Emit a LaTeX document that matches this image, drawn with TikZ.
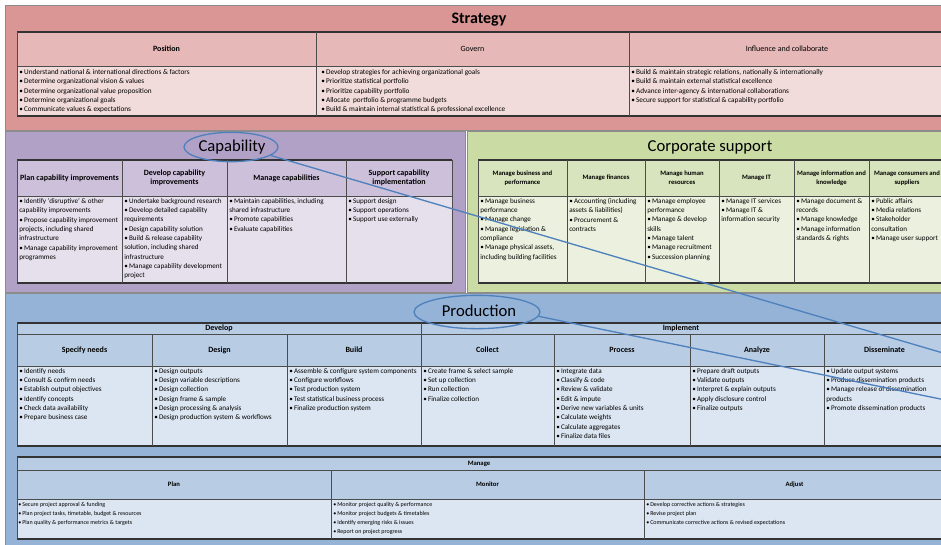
\documentclass[tikz,border=0pt]{standalone}
\usepackage{fontspec}
\setmainfont{Carlito}
\usetikzlibrary{shapes.geometric}

\definecolor{stratBand}{RGB}{217,150,148}
\definecolor{stratHead}{RGB}{230,184,183}
\definecolor{stratBody}{RGB}{242,220,219}
\definecolor{capBand}{RGB}{178,161,199}
\definecolor{capHead}{RGB}{204,192,218}
\definecolor{capBody}{RGB}{229,224,236}
\definecolor{corpBand}{RGB}{202,219,164}
\definecolor{corpHead}{RGB}{215,228,189}
\definecolor{corpBody}{RGB}{235,241,222}
\definecolor{prodBand}{RGB}{149,179,215}
\definecolor{prodHead}{RGB}{184,204,228}
\definecolor{prodBody}{RGB}{220,230,242}
\definecolor{ringBlue}{RGB}{79,129,189}

\newcommand{\itemdot}{\textbullet\,}

\begin{document}
\begin{tikzpicture}[x=0.75pt,y=0.75pt,yscale=-1,xscale=1,
  band/.style={draw=black!45, line width=0.75pt},
  grid/.style={draw=black!70, line width=0.6pt},
  rule/.style={draw=black!80, line width=1.2pt},
  bandttl/.style={font=\fontsize{12.5}{14}\selectfont, inner sep=0pt},
  colhead/.style={font=\bfseries\fontsize{6}{7.2}\selectfont, align=center, inner sep=0pt},
  itemtxt/.style={font=\fontsize{5.35}{7}\selectfont, align=left, anchor=north west, inner sep=0pt},
  strattxt/.style={itemtxt, font=\fontsize{5.45}{7.05}\selectfont},
  smallhead/.style={font=\bfseries\fontsize{5}{6.8}\selectfont, align=center, inner sep=0pt},
  smalltxt/.style={font=\fontsize{4.5}{6.75}\selectfont, align=left, anchor=north west, inner sep=0pt},
  ring/.style={ellipse, draw=ringBlue, line width=1pt, inner sep=0pt},
  link/.style={draw=ringBlue, line width=1pt}]
\clip (0,0) rectangle (941,544);
\fill [white] (0,0) rectangle (941,544);

%Strategy band
\draw [band, fill=stratBand] (5,5) rectangle (950,130);
\fill [stratHead] (17,32) rectangle (950,66);
\fill [stratBody] (17,66) rectangle (950,116);
\draw [rule] (17,32) -- (950,32);
\draw [grid] (17,66) -- (950,66);
\draw [rule] (17,116) -- (950,116);
\foreach \cx in {17,316,629} \draw [grid] (\cx,32) -- (\cx,116);

%Capability band
\draw [band, fill=capBand] (5,131) rectangle (465,292);
\fill [capHead] (17,160) rectangle (452,196);
\fill [capBody] (17,196) rectangle (452,283);
\draw [rule] (17,160) -- (452,160);
\draw [grid] (17,196) -- (452,196);
\draw [rule] (17,283) -- (452,283);
\foreach \cx in {17,122,227,346,452} \draw [grid] (\cx,160) -- (\cx,283);

%Corporate support band
\draw [band, fill=corpBand] (467,131) rectangle (950,292);
\fill [corpHead] (478,160) rectangle (950,196);
\fill [corpBody] (478,196) rectangle (950,283);
\draw [rule] (478,160) -- (950,160);
\draw [grid] (478,196) -- (950,196);
\draw [rule] (478,283) -- (950,283);
\foreach \cx in {478,567,645,719,794,869} \draw [grid] (\cx,160) -- (\cx,283);

%Production band
\draw [band, fill=prodBand] (5,293) rectangle (950,550);
\fill [prodHead] (17,323) rectangle (950,366);
\fill [prodBody] (17,366) rectangle (950,446);
\draw [rule] (17,323) -- (950,323);
\draw [grid] (17,334) -- (950,334);
\draw [grid] (17,366) -- (950,366);
\draw [rule] (17,446) -- (950,446);
\foreach \cx in {17,421} \draw [grid] (\cx,323) -- (\cx,446);
\foreach \cx in {152,287,554,690,824} \draw [grid] (\cx,334) -- (\cx,446);
%Manage table
\fill [prodHead] (17,457) rectangle (950,499);
\fill [prodBody] (17,499) rectangle (950,539);
\draw [rule] (17,457) -- (950,457);
\draw [grid] (17,470) -- (950,470);
\draw [grid] (17,499) -- (950,499);
\draw [rule] (17,539) -- (950,539);
\draw [grid] (17,457) -- (17,539);
\foreach \cx in {331,644} \draw [grid] (\cx,470) -- (\cx,539);

% Titles
\node [bandttl, font=\bfseries\fontsize{12}{14}\selectfont] (stratTtl) at (479,20) {Strategy};
\node [bandttl] (capTtl) at (232,147) {Capability};
\node [ring, minimum width=70.5pt, minimum height=22pt] (capRing) at (231,147) {};
\node [bandttl] (corpTtl) at (710,147) {Corporate support};
\node [bandttl] (prodTtl) at (479,311) {Production};
\node [ring, minimum width=94.5pt, minimum height=25pt] (prodRing) at (477,312) {};

% Strategy headers
\node [colhead] (hPosition) at (166.5,49) {Position};
\node [colhead, font=\fontsize{6}{7.2}\selectfont] (hGovern) at (472.5,49) {Govern};
\node [colhead, font=\fontsize{6}{7.2}\selectfont] (hInfluence) at (787,49) {Influence and collaborate};
% Strategy items
\node [strattxt] (tPosition) at (19,69) {\itemdot Understand national \& international directions \& factors\\
\itemdot Determine organizational vision \& values\\
\itemdot Determine organizational value proposition\\
\itemdot Determine organizational goals\\
\itemdot Communicate values \& expectations};
\node [strattxt] (tGovern) at (321,69) {\itemdot Develop strategies for achieving organizational goals\\
\itemdot Prioritize statistical portfolio\\
\itemdot Prioritize capability portfolio\\
\itemdot Allocate\ \ portfolio \& programme budgets\\
\itemdot Build \& maintain internal statistical \& professional excellence};
\node [strattxt] (tInfluence) at (631,69) {\itemdot Build \& maintain strategic relations, nationally \& internationally\\
\itemdot Build \& maintain external statistical excellence\\
\itemdot Advance inter-agency \& international collaborations\\
\itemdot Secure support for statistical \& capability portfolio};

% Capability headers
\node [colhead] (hPlanCap) at (69.5,178) {Plan capability improvements};
\node [colhead] (hDevCap) at (174.5,178) {Develop capability\\improvements};
\node [colhead] (hManCap) at (286.5,178) {Manage capabilities};
\node [colhead] (hSupCap) at (399,178) {Support capability\\implementation};
% Capability items
\node [itemtxt] (tPlanCap) at (19,198) {\itemdot Identify `disruptive' \& other\\
capability improvements\\
\itemdot Propose capability improvement\\
projects, including shared\\
infrastructure\\
\itemdot Manage capability improvement\\
programmes};
\node [itemtxt] (tDevCap) at (124,198) {\itemdot Undertake background research\\
\itemdot Develop detailed capability\\
requirements\\
\itemdot Design capability solution\\
\itemdot Build \& release capability\\
solution, including shared\\
infrastructure\\
\itemdot Manage capability development\\
project};
\node [itemtxt] (tManCap) at (229,198) {\itemdot Maintain capabilities, including\\
shared infrastructure\\
\itemdot Promote capabilities\\
\itemdot Evaluate capabilities};
\node [itemtxt] (tSupCap) at (348,198) {\itemdot Support design\\
\itemdot Support operations\\
\itemdot Support use externally};

% Corporate support headers
\node [smallhead] (hBusiness) at (522.5,178) {Manage business and\\performance};
\node [smallhead] (hFinance) at (606,178) {Manage finances};
\node [smallhead] (hHuman) at (682,178) {Manage human\\resources};
\node [smallhead] (hIT) at (756.5,178) {Manage IT};
\node [smallhead] (hInfo) at (831.5,178) {Manage information and\\knowledge};
\node [smallhead] (hConsumer) at (907,178) {Manage consumers and\\suppliers};
% Corporate support items
\node [itemtxt] (tBusiness) at (480,198) {\itemdot Manage business\\
performance\\
\itemdot Manage change\\
\itemdot Manage legislation \&\\
compliance\\
\itemdot Manage physical assets,\\
including building facilities};
\node [itemtxt] (tFinance) at (569,198) {\itemdot Accounting (including\\
assets \& liabilities)\\
\itemdot Procurement \&\\
contracts};
\node [itemtxt] (tHuman) at (647,198) {\itemdot Manage employee\\
performance\\
\itemdot Manage \& develop\\
skills\\
\itemdot Manage talent\\
\itemdot Manage recruitment\\
\itemdot Succession planning};
\node [itemtxt] (tIT) at (721,198) {\itemdot Manage IT services\\
\itemdot Manage IT \&\\
information security};
\node [itemtxt] (tInfo) at (796,198) {\itemdot Manage document \&\\
records\\
\itemdot Manage knowledge\\
\itemdot Manage information\\
standards \& rights};
\node [itemtxt] (tConsumer) at (871,198) {\itemdot Public affairs\\
\itemdot Media relations\\
\itemdot Stakeholder\\
consultation\\
\itemdot Manage user support};

% Production headers
\node [colhead] (hDevelop) at (219,328.5) {Develop};
\node [colhead] (hImplement) at (681,328.5) {Implement};
\node [colhead] (hSpecify) at (84.5,350) {Specify needs};
\node [colhead] (hDesign) at (219.5,350) {Design};
\node [colhead] (hBuild) at (354,350) {Build};
\node [colhead] (hCollect) at (487.5,350) {Collect};
\node [colhead] (hProcess) at (622,350) {Process};
\node [colhead] (hAnalyze) at (757,350) {Analyze};
\node [colhead] (hDissem) at (884.5,350) {Disseminate};
% Production items
\node [itemtxt] (tSpecify) at (19,368) {\itemdot Identify needs\\
\itemdot Consult \& confirm needs\\
\itemdot Establish output objectives\\
\itemdot Identify concepts\\
\itemdot Check data availability\\
\itemdot Prepare business case};
\node [itemtxt] (tDesign) at (154,368) {\itemdot Design outputs\\
\itemdot Design variable descriptions\\
\itemdot Design collection\\
\itemdot Design frame \& sample\\
\itemdot Design processing \& analysis\\
\itemdot Design production system \& workflows};
\node [itemtxt] (tBuild) at (289,368) {\itemdot Assemble \& configure system components\\
\itemdot Configure workflows\\
\itemdot Test production system\\
\itemdot Test statistical business process\\
\itemdot Finalize production system};
\node [itemtxt] (tCollect) at (423,368) {\itemdot Create frame \& select sample\\
\itemdot Set up collection\\
\itemdot Run collection\\
\itemdot Finalize collection};
\node [itemtxt] (tProcess) at (556,368) {\itemdot Integrate data\\
\itemdot Classify \& code\\
\itemdot Review \& validate\\
\itemdot Edit \& impute\\
\itemdot Derive new variables \& units\\
\itemdot Calculate weights\\
\itemdot Calculate aggregates\\
\itemdot Finalize data files};
\node [itemtxt] (tAnalyze) at (692,368) {\itemdot Prepare draft outputs\\
\itemdot Validate outputs\\
\itemdot Interpret \& explain outputs\\
\itemdot Apply disclosure control\\
\itemdot Finalize outputs};
\node [itemtxt] (tDissem) at (826,368) {\itemdot Update output systems\\
\itemdot Produce dissemination products\\
\itemdot Manage release of dissemination\\
products\\
\itemdot Promote dissemination products};

% Manage headers
\node [smallhead] (hManage) at (479,463.5) {Manage};
\node [smallhead] (hPlan) at (174,484.5) {Plan};
\node [smallhead] (hMonitor) at (487.5,484.5) {Monitor};
\node [smallhead] (hAdjust) at (794.5,484.5) {Adjust};
% Manage items
\node [smalltxt] (tPlan) at (18,502) {\itemdot Secure project approval \& funding\\
\itemdot Plan project tasks, timetable, budget \& resources\\
\itemdot Plan quality \& performance metrics \& targets};
\node [smalltxt] (tMonitor) at (333,502) {\itemdot Monitor project quality \& performance\\
\itemdot Monitor project budgets \& timetables\\
\itemdot Identify emerging risks \& issues\\
\itemdot Report on project progress};
\node [smalltxt] (tAdjust) at (646,502) {\itemdot Develop corrective actions \& strategies\\
\itemdot Revise project plan\\
\itemdot Communicate corrective actions \& revised expectations};

% Links from the rings
\coordinate (capEnd) at (955,356.5);
\coordinate (prodEnd) at (955,402);
\draw [link] (capRing.-12) -- (capEnd);
\draw [link] (prodRing.-4) -- (prodEnd);

\end{tikzpicture}
\end{document}
